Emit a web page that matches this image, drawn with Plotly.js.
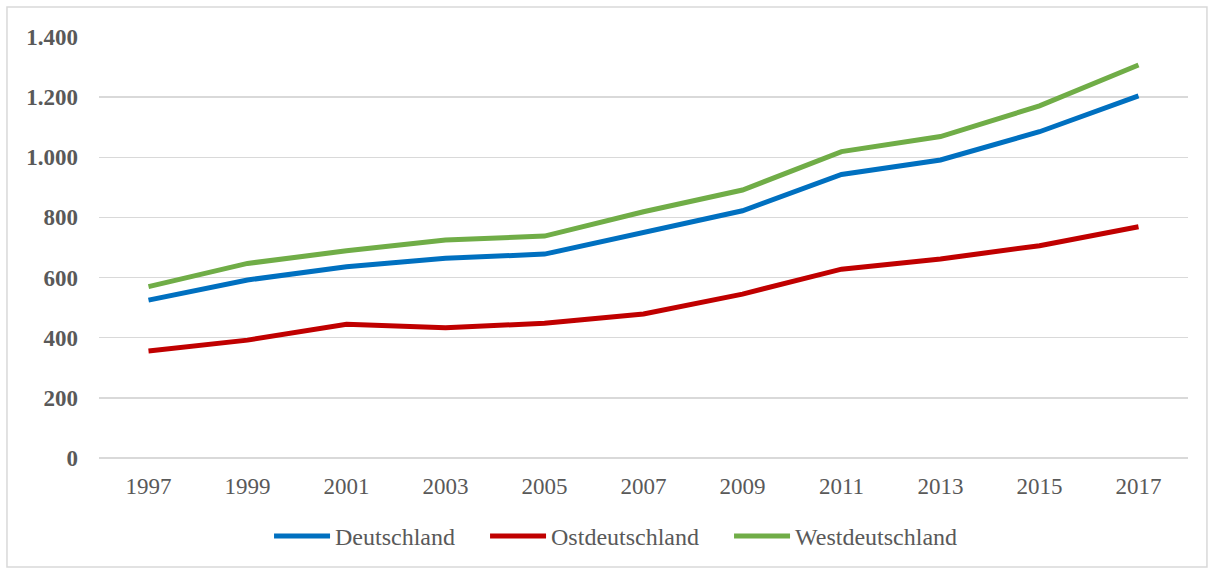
<!DOCTYPE html>
<html>
<head>
<meta charset="utf-8">
<script src="https://cdn.plot.ly/plotly-3.0.1.min.js"></script>
<style>html,body{margin:0;padding:0;background:#fff;}#chart{width:1212px;height:572px;}</style>
</head>
<body>
<div id="chart"></div>
<script>
const years = ["1997","1999","2001","2003","2005","2007","2009","2011","2013","2015","2017"];
const deutschland = [525, 592, 636, 664, 678, 749, 822, 943, 991, 1085, 1204];
const ostdeutschland = [356, 392, 445, 433, 448, 479, 545, 628, 662, 706, 769];
const westdeutschland = [570, 647, 689, 725, 738, 819, 891, 1019, 1069, 1171, 1307];
const seriesNames = ["Deutschland", "Ostdeutschland", "Westdeutschland"];
const seriesColors = ["#0070C0", "#C00000", "#70AD47"];
const legendWidths = [145, 173, 170];
const yTicks = [0, 200, 400, 600, 800, 1000, 1200, 1400];

const values = [deutschland, ostdeutschland, westdeutschland];
const traces = values.map((v, i) => ({
  type: "scatter",
  mode: "lines",
  x: years,
  y: v,
  name: seriesNames[i],
  legendwidth: legendWidths[i],
  line: {color: seriesColors[i], width: 5},
  hoverinfo: "skip"
}));

const font = "'Liberation Serif', 'Times New Roman', serif";
const layout = {
  width: 1212,
  height: 572,
  margin: {l: 99, r: 24, t: 37, b: 114},
  paper_bgcolor: "#ffffff",
  plot_bgcolor: "#ffffff",
  separators: ",.",
  showlegend: true,
  font: {family: font, color: "#595959", size: 23},
  xaxis: {
    type: "category",
    range: [-0.5, 10.5],
    showgrid: false,
    zeroline: false,
    showline: false,
    ticks: "",
    ticklabelstandoff: 12,
    tickfont: {family: font, size: 23, color: "#595959"}
  },
  yaxis: {
    range: [0, 1400],
    tickvals: yTicks,
    tickformat: ",d",
    showgrid: true,
    gridcolor: "#d9d9d9",
    gridwidth: 1.5,
    zeroline: true,
    zerolinecolor: "#d9d9d9",
    zerolinewidth: 1.5,
    showline: false,
    ticks: "",
    ticklabelstandoff: 20,
    tickfont: {family: font, size: 23, color: "#595959", weight: "bold"}
  },
  legend: {
    orientation: "h",
    x: 0.478,
    xanchor: "center",
    y: -0.186,
    yanchor: "middle",
    font: {family: font, size: 24, color: "#595959"},
    itemwidth: 56,
    tracegroupgap: 0,
    bgcolor: "rgba(0,0,0,0)"
  },
  shapes: [{
    type: "rect",
    xref: "paper", yref: "paper",
    x0: -0.0845, x1: 1.0174, y0: -0.2589, y1: 1.0713,
    line: {color: "#d9d9d9", width: 1.5},
    fillcolor: "rgba(0,0,0,0)",
    layer: "below"
  }]
};

Plotly.newPlot("chart", traces, layout, {displayModeBar: false, staticPlot: true});
</script>
</body>
</html>
